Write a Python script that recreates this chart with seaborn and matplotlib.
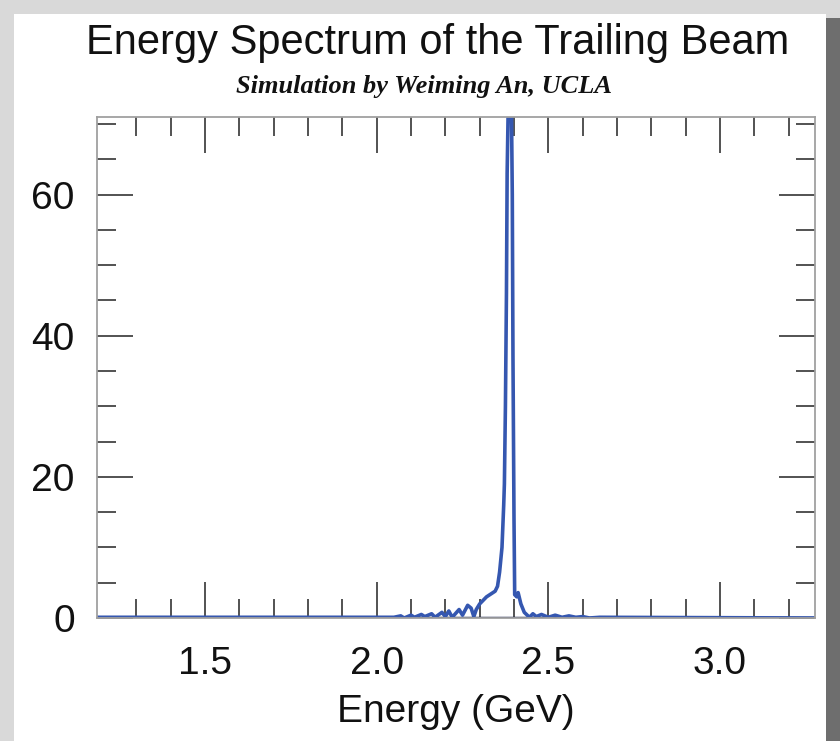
import numpy as np
import pandas as pd
import matplotlib
matplotlib.use("Agg")
import matplotlib.pyplot as plt
from matplotlib.patches import Rectangle
from matplotlib.ticker import MultipleLocator, FixedLocator
import seaborn as sns

# Spectrum (energy in GeV, counts in arbitrary units)
energy = [1.18, 2.05, 2.07, 2.08, 2.10, 2.11, 2.13, 2.14, 2.16, 2.17, 2.19, 2.20,
          2.21, 2.22, 2.24, 2.25, 2.265, 2.275, 2.283, 2.29, 2.30, 2.32, 2.345,
          2.352, 2.358, 2.365, 2.37, 2.372, 2.375, 2.378, 2.38, 2.384, 2.388,
          2.392, 2.395, 2.397, 2.40, 2.402, 2.408, 2.412, 2.42, 2.43, 2.445,
          2.455, 2.465, 2.48, 2.50, 2.52, 2.54, 2.56, 2.58, 2.60, 2.62, 2.65, 3.28]
counts = [0.1, 0.1, 0.3, 0.0, 0.4, 0.1, 0.5, 0.2, 0.6, 0.1, 0.8, 0.2,
          1.0, 0.1, 1.2, 0.4, 1.8, 1.4, 0.2, 1.2, 2.0, 3.0, 3.8,
          4.5, 6.5, 10, 16, 19, 30, 46, 63, 75, 85,
          75, 60, 37, 14, 3.3, 3.0, 3.6, 2.0, 0.8, 0.1,
          0.6, 0.2, 0.5, 0.1, 0.4, 0.1, 0.3, 0.1, 0.2, 0.0, 0.1, 0.0]

x_ticks = [1.5, 2.0, 2.5, 3.0]
x_minor = [1.3, 1.4, 1.6, 1.7, 1.8, 1.9, 2.1, 2.2, 2.3, 2.4, 2.6, 2.7, 2.8, 2.9, 3.1, 3.2]
y_ticks = [0, 20, 40, 60]

spectrum = pd.DataFrame({"Energy": energy, "Counts": counts})

sns.set_style("ticks")
plt.rcParams['font.family'] = ['Liberation Sans', 'DejaVu Sans']

fig = plt.figure(figsize=(8.4, 7.41), dpi=100)
fig.patch.set_facecolor("white")

# screenshot-like shadow frame
fig.patches.append(Rectangle((0, 0), 1, 1, transform=fig.transFigure,
                             facecolor="#d9d9d9", edgecolor="none", zorder=-3))
fig.patches.append(Rectangle((14 / 840, 0), 812 / 840, 1 - 14 / 741,
                             transform=fig.transFigure, facecolor="white",
                             edgecolor="none", zorder=-2))
fig.patches.append(Rectangle((826 / 840, 0), 14 / 840, 1 - 18 / 741,
                             transform=fig.transFigure, facecolor="#6e6e6e",
                             edgecolor="none", zorder=-2))

ax = fig.add_axes([97 / 840, 1 - 618 / 741, (815 - 97) / 840, (618 - 117) / 741])
ax.set_facecolor("none")

sns.lineplot(data=spectrum, x="Energy", y="Counts", ax=ax, color="#3557b0",
             linewidth=2.6, clip_on=True)

ax.set_xlim(1.185, 3.277)
ax.set_ylim(0, 71)
ax.set_xticks(x_ticks)
ax.set_yticks(y_ticks)
ax.xaxis.set_minor_locator(FixedLocator(x_minor))
ax.yaxis.set_minor_locator(MultipleLocator(5))
ax.tick_params(which="both", direction="in", top=True, right=True,
               color="#444444", width=1.3, labelsize=28, labelcolor="#111111")
ax.tick_params(axis="x", which="major", pad=20)
ax.tick_params(axis="y", which="major", pad=16)
ax.tick_params(which="major", length=26)
ax.tick_params(which="minor", length=13.5)
ax.set_xticklabels(["1.5", "2.0", "2.5", "3.0"])
ax.set_yticklabels(["0", "20", "40", "60"])
for s in ax.spines.values():
    s.set_color("#a0a0a0")
    s.set_linewidth(1.3)
ax.axhline(0, color="#1a2350", linewidth=2.5, zorder=1)

ax.set_xlabel("Energy (GeV)", fontsize=28, labelpad=9, color="#111111")
ax.set_ylabel("")

fig.text(438 / 840, 1 - 43 / 741, "Energy Spectrum of the Trailing Beam",
         ha="center", va="center", fontsize=30, color="#111111")
fig.text(424 / 840, 1 - 86 / 741, "Simulation by Weiming An, UCLA",
         ha="center", va="center", fontsize=19, style="italic",
         weight="bold", color="#111111", family=["Liberation Serif", "DejaVu Serif"])

fig.savefig("out.png", dpi=100)
